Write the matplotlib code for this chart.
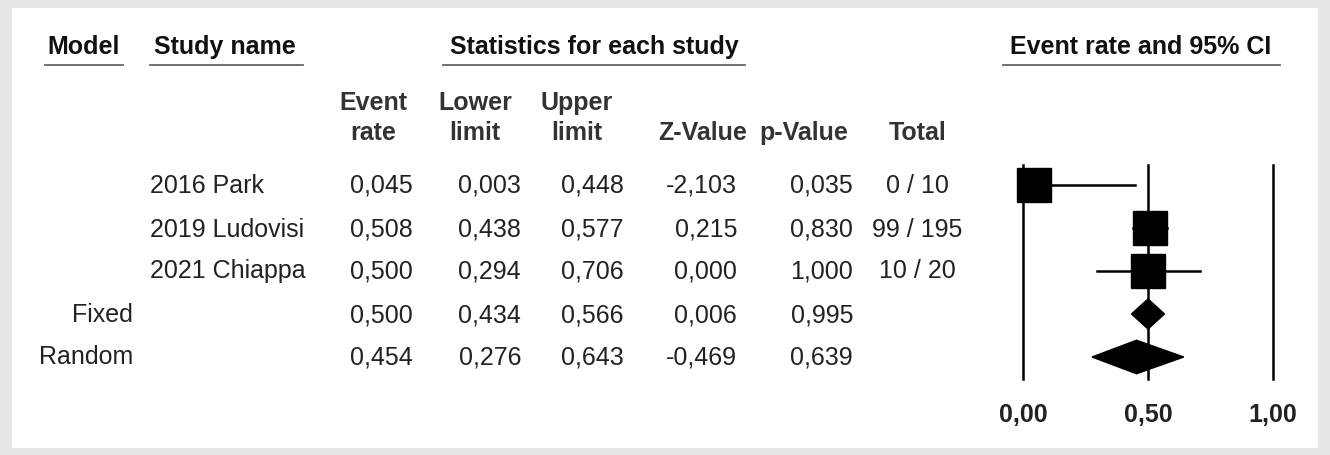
import matplotlib.pyplot as plt
from matplotlib.patches import Polygon, Rectangle

plt.rcParams["font.family"] = ["Liberation Sans", "DejaVu Sans"]

# table data
models = ["", "", "", "Fixed", "Random"]
studies = ["2016 Park", "2019 Ludovisi", "2021 Chiappa", "", ""]
event_rate = [0.045, 0.508, 0.500, 0.500, 0.454]
lower = [0.003, 0.438, 0.294, 0.434, 0.276]
upper = [0.448, 0.577, 0.706, 0.566, 0.643]
z_value = [-2.103, 0.215, 0.000, 0.006, -0.469]
p_value = [0.035, 0.830, 1.000, 0.995, 0.639]
totals = ["0 / 10", "99 / 195", "10 / 20", "", ""]
is_summary = [False, False, False, True, True]
axis_ticks = [0.0, 0.5, 1.0]

W, H = 1330, 455
FS = 18
TXT = "#222222"
row_y = [186, 230, 271, 315, 357]


def fmt(v):
    return f"{v:.3f}".replace(".", ",")


fig = plt.figure(figsize=(W / 100, H / 100), dpi=100)
fig.patch.set_facecolor("#e6e6e6")

# full-figure axes in pixel coords for the table
tab = fig.add_axes([0, 0, 1, 1])
tab.set_xlim(0, W)
tab.set_ylim(H, 0)
tab.axis("off")
tab.add_patch(Rectangle((12, 8), 1306, 440, facecolor="white", edgecolor="none"))

headers = [
    ("Model", 84, 45, 123),
    ("Study name", 225, 150, 303),
    ("Statistics for each study", 594, 443, 745),
    ("Event rate and 95% CI", 1141, 1003, 1280),
]
for label, cx, x0, x1 in headers:
    tab.text(cx, 47, label, ha="center", va="center", fontsize=FS,
             fontweight="bold", color="#111111")
    tab.plot([x0, x1], [65, 65], color="#666666", lw=1.3)

sub = [("Event\nrate", 373), ("Lower\nlimit", 475), ("Upper\nlimit", 577)]
for label, cx in sub:
    tab.text(cx, 118, label, ha="center", va="center", fontsize=FS,
             fontweight="bold", color="#333333", linespacing=1.27)
for label, cx in [("Z-Value", 703), ("p-Value", 804), ("Total", 918)]:
    tab.text(cx, 133, label, ha="center", va="center", fontsize=FS,
             fontweight="bold", color="#333333")

for i, y in enumerate(row_y):
    tab.text(133, y, models[i], ha="right", va="center", fontsize=FS, color=TXT)
    tab.text(150, y, studies[i], ha="left", va="center", fontsize=FS, color=TXT)
    tab.text(413, y, fmt(event_rate[i]), ha="right", va="center", fontsize=FS, color=TXT)
    tab.text(521, y, fmt(lower[i]), ha="right", va="center", fontsize=FS, color=TXT)
    tab.text(624, y, fmt(upper[i]), ha="right", va="center", fontsize=FS, color=TXT)
    tab.text(737, y, fmt(z_value[i]), ha="right", va="center", fontsize=FS, color=TXT)
    tab.text(853, y, fmt(p_value[i]), ha="right", va="center", fontsize=FS, color=TXT)
    tab.text(917, y, totals[i], ha="center", va="center", fontsize=FS, color=TXT)

# forest plot axes: x 0 -> px 1023, 1 -> px 1273; row spacing ~43 px
px0, px1 = 993, 1303
py0, py1 = 150, 395
ax = fig.add_axes([px0 / W, 1 - py1 / H, (px1 - px0) / W, (py1 - py0) / H])
ax.set_xlim((px0 - 1023) / 250, (px1 - 1023) / 250)
rowpx = 43
ax.set_ylim(4 + (py1 - 357) / rowpx, (py0 - 185) / rowpx)
ax.axis("off")

for xv in axis_ticks:
    ax.plot([xv, xv], [-0.47, 4.52], color="black", lw=1.8, zorder=1)
    ax.text(xv, 5.35, f"{xv:.2f}".replace(".", ","), ha="center", va="center",
            fontsize=FS, fontweight="bold", color=TXT)

for i in range(len(event_rate)):
    if is_summary[i]:
        h = 0.35 if i == 3 else 0.39
        ax.add_patch(Polygon([(lower[i], i), (event_rate[i], i - h),
                              (upper[i], i), (event_rate[i], i + h)],
                             closed=True, facecolor="black", edgecolor="black", zorder=3))
    else:
        ax.plot([lower[i], upper[i]], [i, i], color="black", lw=1.8, zorder=2)
        ax.plot(event_rate[i], i, marker="s", markersize=24, color="black", zorder=3)

fig.savefig("out.png", dpi=100, facecolor=fig.get_facecolor())
